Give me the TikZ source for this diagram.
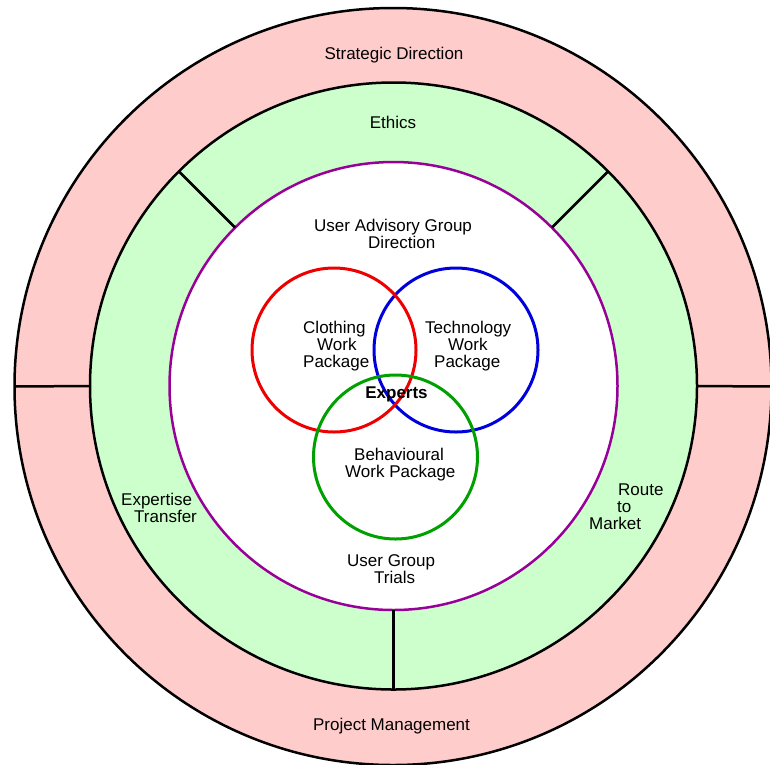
\documentclass[tikz,border=0pt]{standalone}
\usepackage{fontspec}
\setmainfont{Liberation Sans}
\definecolor{pinkfill}{HTML}{FFCCCC}
\definecolor{greenfill}{HTML}{CCFFCC}
\definecolor{purpleline}{HTML}{990099}
\definecolor{redline}{HTML}{EE0000}
\definecolor{blueline}{HTML}{0000DD}
\definecolor{greenline}{HTML}{00A000}
\begin{document}
\begin{tikzpicture}[x=1pt,y=-1pt,
  ring/.style={circle,draw=black,line width=2.5pt,inner sep=0pt,outer sep=0pt},
  divider/.style={draw=black,line width=2.5pt},
  venn/.style={circle,draw,line width=3pt,minimum size=164pt,inner sep=0pt,outer sep=0pt},
  lbl/.style={font=\fontsize{17pt}{17pt}\selectfont,inner sep=0pt,anchor=base},
  block/.style={lbl,align=left,anchor=base west}]
\useasboundingbox (0,0) rectangle (770,764);

% concentric rings
\node[ring,fill=pinkfill,minimum size=757pt] (outer) at (393,386.5) {};
\node[ring,fill=greenfill,minimum size=607pt] (middle) at (393.5,386) {};
\node[ring,draw=purpleline,fill=white,minimum size=448pt] (inner) at (393.5,386) {};

% ring dividers
\draw[divider] (outer.west) -- (middle.west);
\draw[divider] (middle.east) -- (outer.east);
\draw[divider] (inner.south) -- (middle.south);
\draw[divider] (middle.north west) -- (inner.north west);
\draw[divider] (middle.north east) -- (inner.north east);

% work package circles
\node[venn,draw=blueline] (tech) at (456,350) {};
\node[venn,draw=redline] (cloth) at (334,350) {};
\node[venn,draw=greenline] (behav) at (395.5,457) {};

% labels (multi-line blocks are placed by the baseline of their last line)
\node[lbl] (strategic) at (394,59) {Strategic Direction};
\node[lbl] (ethics) at (393,128) {Ethics};
\node[lbl] (project) at (391.5,730) {Project Management};
\node[lbl,font=\fontsize{17pt}{17pt}\selectfont\bfseries] (experts) at (396.5,398) {Experts};

\node[block] (uag) at (314,248) {User Advisory Group\\\hspace*{54pt}Direction};
\node[block] (clothtext) at (303,367) {Clothing\\\hspace*{14pt}Work\\Package};
\node[block] (techtext) at (425,367) {Technology\\\hspace*{23pt}Work\\\hspace*{9pt}Package};
\node[block] (behavtext) at (345,477) {\hspace*{9pt}Behavioural\\Work Package};
\node[block] (trials) at (347,583) {User Group\\\hspace*{27pt}Trials};
\node[block] (expertise) at (121,522) {Expertise\\\hspace*{13pt}Transfer};
\node[block] (route) at (589,529) {\hspace*{29pt}Route\\\hspace*{28pt}to\\Market};
\end{tikzpicture}
\end{document}
